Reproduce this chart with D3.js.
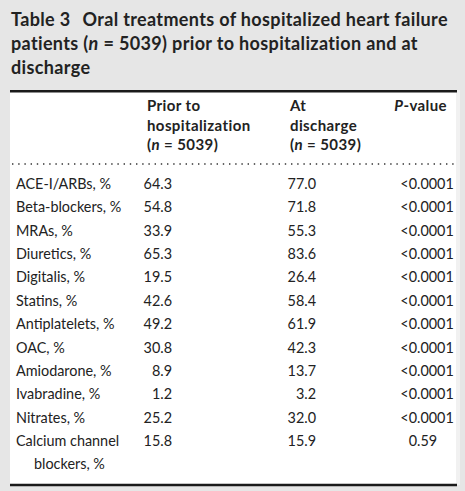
<!DOCTYPE html>
<html><head><meta charset="utf-8">
<script src="https://cdn.jsdelivr.net/npm/d3@7"></script>
<style>html,body{margin:0;padding:0;background:#e6e6e6;} svg{display:block}</style>
</head><body><svg id="c" width="465" height="491"></svg>
<script>
// ---- data ----
const titleLines = [
  [{t:"Table 3", b:1}, {t:"\u2002\u2009", b:1}, {t:"Oral treatments of hospitalized heart failure", b:1}],
  [{t:"patients (", b:1}, {t:"n", b:1, i:1}, {t:" = 5039) prior to hospitalization and at", b:1}],
  [{t:"discharge", b:1}]
];
const columnHeaders = [
  [[{t:"Prior to"}], [{t:"hospitalization"}], [{t:"("}, {t:"n", i:1}, {t:" = 5039)"}]],
  [[{t:"At"}], [{t:"discharge"}], [{t:"("}, {t:"n", i:1}, {t:" = 5039)"}]],
  [[{t:"P", i:1}, {t:"-value"}]]
];
const drugs = ["ACE-I/ARBs, %", "Beta-blockers, %", "MRAs, %", "Diuretics, %", "Digitalis, %",
  "Statins, %", "Antiplatelets, %", "OAC, %", "Amiodarone, %", "Ivabradine, %", "Nitrates, %",
  "Calcium channel blockers, %"];
const priorValues = [64.3, 54.8, 33.9, 65.3, 19.5, 42.6, 49.2, 30.8, 8.9, 1.2, 25.2, 15.8];
const dischargeValues = [77.0, 71.8, 55.3, 83.6, 26.4, 58.4, 61.9, 42.3, 13.7, 3.2, 32.0, 15.9];
const pValues = ["<0.0001", "<0.0001", "<0.0001", "<0.0001", "<0.0001", "<0.0001", "<0.0001",
  "<0.0001", "<0.0001", "<0.0001", "<0.0001", "0.59"];

// ---- layout ----
const FONT = "Lato, 'Open Sans', sans-serif";
const ink = "#222";
const svg = d3.select("#c");

// panel
svg.append("rect").attr("x", 10).attr("y", 90).attr("width", 446).attr("height", 395).attr("fill", "#fff");
svg.append("rect").attr("x", 456).attr("y", 90).attr("width", 4).attr("height", 395).attr("fill", "#f1f1f1");
svg.append("line").attr("x1", 10).attr("x2", 457).attr("y1", 91.2).attr("y2", 91.2)
  .attr("stroke", "#1a1a1a").attr("stroke-width", 2.6);
svg.append("line").attr("x1", 10).attr("x2", 457).attr("y1", 485).attr("y2", 485)
  .attr("stroke", "#1a1a1a").attr("stroke-width", 2.6);
svg.append("line").attr("x1", 12).attr("x2", 454).attr("y1", 164).attr("y2", 164)
  .attr("stroke", "#333").attr("stroke-width", 1.4).attr("stroke-dasharray", "1.4,4.8");

function runs(sel, parts) {
  sel.selectAll("tspan.r").data(parts).join("tspan").attr("class", "r")
    .attr("font-weight", d => d.b ? 700 : null)
    .attr("font-style", d => d.i ? "italic" : null)
    .text(d => d.t);
}

// title
const title = svg.append("g").attr("font-family", FONT).attr("font-weight", 700)
  .attr("font-size", 18).attr("letter-spacing", 0.35).attr("fill", ink);
const titleY = d3.scaleLinear().domain([0, 2]).range([26, 74]);
titleLines.forEach((ln, i) => {
  const t = title.append("text").attr("x", 11).attr("y", titleY(i)).attr("xml:space", "preserve");
  runs(t, ln);
});

// columns
const colKeys = ["prior", "discharge", "p"];
const colX = d3.scaleOrdinal().domain(colKeys).range([147, 290, 447]);
const colRight = d3.scaleOrdinal().domain(colKeys).range([172, 316, 450]);

const head = svg.append("g").attr("font-family", FONT).attr("font-weight", 700)
  .attr("font-size", 15).attr("letter-spacing", 0.4).attr("fill", ink);
const headY = d3.scaleLinear().domain([0, 2]).range([110.7, 150.3]);
columnHeaders.forEach((lines, ci) => {
  lines.forEach((ln, li) => {
    const t = head.append("text").attr("y", headY(li)).attr("xml:space", "preserve");
    if (ci === 2) t.attr("x", colX(colKeys[ci])).attr("text-anchor", "end");
    else t.attr("x", colX(colKeys[ci]));
    runs(t, ln);
  });
});

// body
const rowY = d3.scaleLinear().domain([0, drugs.length - 1]).range([189, 446]);
const body = svg.append("g").attr("font-family", FONT).attr("font-size", 14.4).attr("fill", ink);
const fmt = d3.format(".1f");
const labelMax = 122;

drugs.forEach((name, i) => {
  const t = body.append("text").attr("x", 16).attr("y", rowY(i));
  const words = name.split(" ");
  let line = [];
  let tspan = t.append("tspan").attr("x", 16);
  words.forEach(w => {
    line.push(w);
    tspan.text(line.join(" "));
    if (tspan.node().getComputedTextLength() > labelMax && line.length > 1) {
      line.pop();
      tspan.text(line.join(" "));
      line = [w];
      tspan = t.append("tspan").attr("x", 34).attr("dy", 22.5).text(w);
    }
  });
});

body.selectAll("text.prior").data(priorValues).join("text").attr("class", "prior")
  .attr("x", colRight("prior")).attr("y", (d, i) => rowY(i)).attr("text-anchor", "end").text(fmt);
body.selectAll("text.dis").data(dischargeValues).join("text").attr("class", "dis")
  .attr("x", colRight("discharge")).attr("y", (d, i) => rowY(i)).attr("text-anchor", "end").text(fmt);

// p-values aligned on the decimal point
const pDecimalX = 417;
pValues.forEach((p, i) => {
  const k = p.indexOf(".");
  const g = body.append("g");
  g.append("text").attr("x", pDecimalX).attr("y", rowY(i)).attr("text-anchor", "end").text(p.slice(0, k));
  g.append("text").attr("x", pDecimalX).attr("y", rowY(i)).text(p.slice(k));
});
</script></body></html>
